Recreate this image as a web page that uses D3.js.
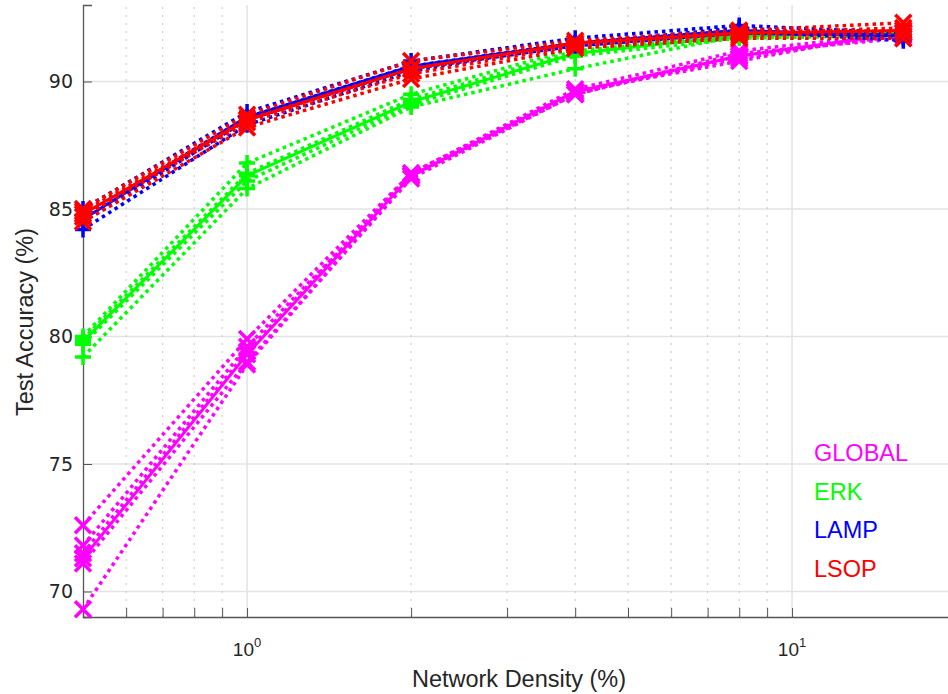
<!DOCTYPE html>
<html>
<head>
<meta charset="utf-8">
<script src="https://cdn.jsdelivr.net/npm/d3@7"></script>
<style>
  body { margin: 0; background: #fff; }
  svg { font-family: "Liberation Sans", Arial, sans-serif; }
</style>
</head>
<body>
<div id="root"></div>
<script>
// densities (%) on a log axis
const densities = [0.5, 1, 2, 4, 8, 16];

// mean accuracy per method (solid lines)
const globalMean = [71.3, 79.3, 86.3, 89.6, 91.0, 91.9];
const erkMean    = [79.8, 86.3, 89.2, 91.1, 91.8, 91.9];
const lampMean   = [84.6, 88.6, 90.6, 91.5, 92.0, 91.8];
const lsopMean   = [84.8, 88.5, 90.5, 91.5, 91.9, 92.0];

// individual runs (dotted lines)
const globalRuns = [
	[72.6, 79.9, 86.4, 89.7, 91.2, 91.9],
	[71.8, 79.6, 86.3, 89.5, 91.0, 91.8],
	[71.5, 79.4, 86.4, 89.6, 90.8, 92.0],
	[71.1, 79.0, 86.2, 89.5, 91.1, 91.7],
	[69.3, 78.9, 86.3, 89.6, 90.9, 91.9]
];
const erkRuns = [
	[80.0, 86.8, 89.5, 91.3, 91.9, 92.0],
	[79.9, 86.4, 89.3, 91.2, 91.8, 91.9],
	[79.7, 86.1, 89.1, 91.0, 91.7, 91.8],
	[79.2, 85.8, 89.0, 90.5, 91.8, 91.9]
];
const lampRuns = [
	[85.0, 88.8, 90.8, 91.7, 92.2, 91.9],
	[84.7, 88.6, 90.6, 91.5, 92.0, 91.6],
	[84.5, 88.5, 90.5, 91.4, 91.9, 91.8],
	[84.2, 88.3, 90.4, 91.5, 92.1, 91.7]
];
const lsopRuns = [
	[85.0, 88.7, 90.8, 91.6, 92.0, 92.3],
	[84.9, 88.5, 90.5, 91.5, 91.9, 92.1],
	[84.7, 88.4, 90.3, 91.4, 91.8, 91.9],
	[84.5, 88.2, 90.1, 91.3, 91.7, 91.7]
];

const methods = [
	{ name: "GLOBAL", color: "#ff00ff", mean: globalMean, runs: globalRuns, marker: "x" },
	{ name: "ERK",    color: "#00ff00", mean: erkMean,    runs: erkRuns,    marker: "+" },
	{ name: "LAMP",   color: "#0000ff", mean: lampMean,   runs: lampRuns,   marker: "+" },
	{ name: "LSOP",   color: "#ff0000", mean: lsopMean,   runs: lsopRuns,   marker: "x" }
];

const yTicks = [70, 75, 80, 85, 90];
const xMajor = [1, 10];
const xMinor = [0.6, 0.7, 0.8, 0.9, 2, 3, 4, 5, 6, 7, 8, 9, 20];

const width = 948, height = 694;
const margin = { left: 83, top: 5, bottom: 77 };

const svg = d3.select("#root").append("svg")
	.attr("width", width)
	.attr("height", height);

const x = d3.scaleLog()
	.domain([0.5, 20])
	.range([margin.left, margin.left + 545 * Math.log10(40)]);
const y = d3.scaleLinear()
	.domain([69, 93])
	.range([height - margin.bottom, margin.top]);

const x0 = x.range()[0], x1 = x.range()[1];
const y0 = y.range()[0], y1 = y.range()[1];

// grid
const grid = svg.append("g");
grid.selectAll(".ygrid").data(yTicks).enter()
	.append("line")
		.attr("x1", x0).attr("x2", x1)
		.attr("y1", d => y(d)).attr("y2", d => y(d))
		.style("stroke", "#e3e3e3").style("stroke-width", 1.5);
grid.selectAll(".xgrid").data(xMajor).enter()
	.append("line")
		.attr("x1", d => x(d)).attr("x2", d => x(d))
		.attr("y1", y0).attr("y2", y1)
		.style("stroke", "#e3e3e3").style("stroke-width", 1.5);
grid.selectAll(".xminor").data(xMinor).enter()
	.append("line")
		.attr("x1", d => x(d)).attr("x2", d => x(d))
		.attr("y1", y0).attr("y2", y1)
		.style("stroke", "#cfcfcf").style("stroke-width", 1.2)
		.style("stroke-dasharray", "2,6");

// axes
const axisColor = "#555";
const xAxis = d3.axisBottom(x)
	.tickValues(xMajor.concat(xMinor))
	.tickSize(-9)
	.tickFormat("");
svg.append("g")
	.attr("transform", `translate(0,${y0})`)
	.call(xAxis)
	.call(g => g.selectAll("line").style("stroke", axisColor))
	.call(g => g.select(".domain").style("stroke", axisColor).style("stroke-width", 1.3));

const yAxis = d3.axisLeft(y)
	.tickValues(yTicks)
	.tickSize(-9)
	.tickPadding(10)
	.tickFormat(d3.format("d"));
svg.append("g")
	.attr("transform", `translate(${x0},0)`)
	.call(yAxis)
	.call(g => g.selectAll("line").style("stroke", axisColor))
	.call(g => g.select(".domain").style("stroke", axisColor).style("stroke-width", 1.3))
	.call(g => g.selectAll("text")
		.style("font-family", "'DejaVu Sans', sans-serif")
		.style("font-size", "19px").style("fill", "#262626"));

// x tick labels as 10^n
const xl = svg.selectAll(".xlab").data(xMajor).enter()
	.append("text")
		.attr("x", d => x(d))
		.attr("y", 656)
		.style("font-size", "19px")
		.style("fill", "#262626")
		.style("text-anchor", "middle");
xl.append("tspan").text("10");
xl.append("tspan").text(d => Math.round(Math.log10(d)))
	.attr("dy", -9).style("font-size", "13px");

svg.append("text")
	.text("Network Density (%)")
	.attr("x", 519).attr("y", 687)
	.style("font-size", "23.5px").style("fill", "#262626")
	.style("text-anchor", "middle");
svg.append("text")
	.text("Test Accuracy (%)")
	.attr("transform", `translate(33,${322}) rotate(-90)`)
	.style("font-size", "23.5px").style("fill", "#262626")
	.style("text-anchor", "middle");

// lines
const plot = svg.append("g");
const line = d3.line()
	.x((d, i) => x(densities[i]))
	.y(d => y(d));

const drawMarkers = (g, vals, m) => {
	const s = 8;
	const path = m.marker === "x"
		? `M${-s},${-s}L${s},${s}M${-s},${s}L${s},${-s}`
		: `M${-s},0L${s},0M0,${-s}L0,${s}`;
	g.selectAll(null).data(vals).enter()
		.append("path")
			.attr("d", path)
			.attr("transform", (d, i) => `translate(${x(densities[i])},${y(d)})`)
			.style("stroke", m.color).style("stroke-width", 3.5)
			.style("fill", "none");
};

methods.forEach(m => {
	const g = plot.append("g");
	m.runs.forEach(r => {
		g.append("path")
			.attr("d", line(r))
			.style("fill", "none")
			.style("stroke", m.color)
			.style("stroke-width", 3.5)
			.style("stroke-dasharray", "3.5,4");
		drawMarkers(g, r, m);
	});
	g.append("path")
		.attr("d", line(m.mean))
		.style("fill", "none")
		.style("stroke", m.color)
		.style("stroke-width", 3);
	drawMarkers(g, m.mean, m);
});

// legend
svg.selectAll(".legend").data(methods).enter()
	.append("text")
		.text(d => d.name)
		.attr("x", 814)
		.attr("y", (d, i) => 461 + i * 38.5)
		.style("font-size", "23.5px")
		.style("fill", d => d.color);
</script>
</body>
</html>
